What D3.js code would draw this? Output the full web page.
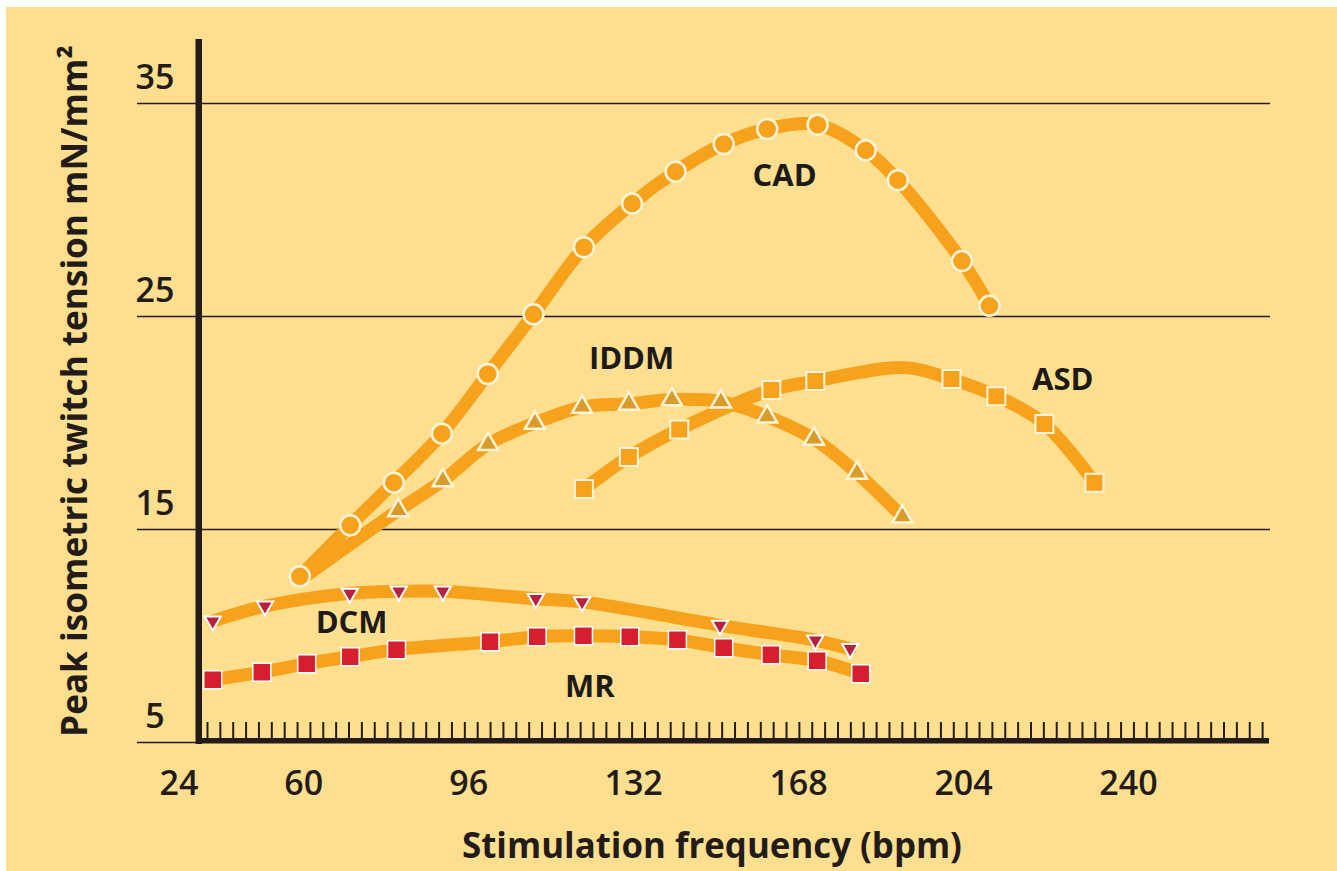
<!DOCTYPE html>
<html><head><meta charset="utf-8">
<script src="https://cdn.jsdelivr.net/npm/d3@7"></script>
<style>html,body{margin:0;padding:0;background:#fff;} svg{display:block;}</style>
</head><body><svg id="chart" width="1337" height="871"></svg>
<script>
// ---------- data ----------
const xTickLabels = [24, 60, 96, 132, 168, 204, 240];
const yTickLabels = [5, 15, 25, 35];
const xTitle = "Stimulation frequency (bpm)";
const yTitle = "Peak isometric twitch tension mN/mm²";
const seriesNames = ["MR", "DCM", "ASD", "IDDM", "CAD"];

const cadX = [58.5, 69.5, 79, 89.5, 99.5, 109.5, 120.5, 131, 140.5, 151, 160.5, 171.5, 182, 189, 203, 209];
const cadY = [12.8, 15.2, 17.2, 19.5, 22.3, 25.1, 28.25, 30.3, 31.8, 33.1, 33.8, 34.0, 32.8, 31.4, 27.6, 25.5];
const cadMarked = cadX.map(() => true);

const iddmX = [59, 80, 89.7, 99.6, 109.8, 120.1, 130.3, 139.7, 150.4, 160.5, 170.7, 180.1, 190];
const iddmY = [12.7, 15.9, 17.3, 19.0, 20.0, 20.75, 20.9, 21.1, 21.0, 20.3, 19.25, 17.65, 15.6];
const iddmMarked = [false, true, true, true, true, true, true, true, true, true, true, true, true];

const asdX = [120.5, 130.3, 141.3, 161.4, 171, 190.5, 200.7, 210.5, 221, 231.9];
const asdY = [16.9, 18.4, 19.7, 21.55, 21.97, 22.6, 22.06, 21.26, 19.95, 17.2];
const asdMarked = [true, true, true, true, true, false, true, true, true, true];

const dcmX = [39.5, 50.9, 69.4, 80.1, 89.7, 110, 120.1, 150.2, 171, 178.6];
const dcmY = [10.7, 11.4, 12.0, 12.1, 12.1, 11.75, 11.6, 10.5, 9.8, 9.4];
const dcmMarked = dcmX.map(() => true);

const mrX = [39.5, 50.2, 60, 69.5, 79.6, 100, 110.3, 120.4, 130.5, 140.9, 151, 161.3, 171.4, 180.9];
const mrY = [7.95, 8.3, 8.7, 9.03, 9.36, 9.73, 9.97, 10.01, 9.97, 9.82, 9.45, 9.12, 8.84, 8.23];
const mrMarked = mrX.map(() => true);

// ---------- layout / style ----------
const W = 1337, H = 871;
const BG = "#FDDF8F", LINE = "#F6A21D", INK = "#231b18";
const FONT = "'Open Sans', 'Noto Sans', sans-serif";

const x = d3.scaleLinear().domain([36.5, 270]).range([199, 1269]);
const y = d3.scaleLinear().domain([5, 35]).range([742.5, 103.5]);

const svg = d3.select("#chart");
svg.append("rect").attr("x", 6).attr("y", 7).attr("width", W - 6).attr("height", H - 7).attr("fill", BG);

// gridlines
const gridLeft = 137, gridRight = 1270;
svg.append("g").selectAll("line").data(yTickLabels).join("line")
  .attr("x1", gridLeft)
  .attr("x2", d => d === y.domain()[0] ? x.range()[0] : gridRight)
  .attr("y1", d => y(d)).attr("y2", d => y(d))
  .attr("stroke", INK).attr("stroke-width", 1.6);

// y tick labels (above gridlines)
svg.append("g").selectAll("text").data(yTickLabels).join("text")
  .attr("x", 155).attr("y", d => y(d) - 15)
  .attr("text-anchor", "middle")
  .attr("font-family", FONT).attr("font-size", 34).attr("font-weight", 600)
  .attr("fill", INK).text(d => d);

// minor ticks on x axis
const minorStart = 38.35, minorStep = 2.808;
const minorTicks = d3.range(0, 83).map(i => minorStart + i * minorStep);
svg.append("g").selectAll("line").data(minorTicks).join("line")
  .attr("x1", d => x(d)).attr("x2", d => x(d))
  .attr("y1", 722).attr("y2", 739)
  .attr("stroke", INK).attr("stroke-width", 2);

// axes lines
svg.append("rect").attr("x", x.range()[0] - 3.5).attr("y", 39).attr("width", 6.5).attr("height", 705).attr("fill", INK);
svg.append("rect").attr("x", x.range()[0] - 3).attr("y", 738).attr("width", x.range()[1] - x.range()[0] + 3).attr("height", 5.5).attr("fill", INK);

// x tick labels
const xPos = v => v < x.domain()[0] ? x(x.domain()[0]) - 20 : x(v) - 3;
svg.append("g").selectAll("text").data(xTickLabels).join("text")
  .attr("x", d => xPos(d)).attr("y", 795)
  .attr("text-anchor", "middle")
  .attr("font-family", FONT).attr("font-size", 34).attr("font-weight", 600)
  .attr("fill", INK).text(d => d);

function fit(sel, target) {
  const n = sel.node();
  const fs = parseFloat(sel.attr("font-size"));
  const w = n.getComputedTextLength();
  sel.attr("font-size", fs * target / w);
}

// axis titles
const xt = svg.append("text").attr("x", 712).attr("y", 858).attr("text-anchor", "middle")
  .attr("font-family", FONT).attr("font-size", 32).attr("font-weight", 700).attr("fill", INK).text(xTitle);
fit(xt, 500);
const yt = svg.append("text").attr("transform", "translate(87,391) rotate(-90)").attr("text-anchor", "middle")
  .attr("font-family", FONT).attr("font-size", 32).attr("font-weight", 700).attr("fill", INK).text(yTitle);
fit(yt, 692);

// series
const series = {
  MR:   {xs: mrX, ys: mrY, m: mrMarked},
  DCM:  {xs: dcmX, ys: dcmY, m: dcmMarked},
  ASD:  {xs: asdX, ys: asdY, m: asdMarked},
  IDDM: {xs: iddmX, ys: iddmY, m: iddmMarked},
  CAD:  {xs: cadX, ys: cadY, m: cadMarked}
};
const line = d3.line().x(d => x(d[0])).y(d => y(d[1])).curve(d3.curveCatmullRom.alpha(0.5));
const lineG = svg.append("g");
seriesNames.forEach(name => {
  const s = series[name];
  const pts = s.xs.map((v, i) => [v, s.ys[i]]);
  lineG.append("path").attr("d", line(pts)).attr("fill", "none")
    .attr("stroke", LINE).attr("stroke-width", 13).attr("stroke-linecap", "round").attr("stroke-linejoin", "round");
});

const markerStyle = {
  CAD:  {type: "circle", size: Math.PI * 10 * 10, fill: LINE, stroke: "#FFF4D8", sw: 2.5, rot: 0},
  IDDM: {type: "triangle", size: 175, fill: "#D89C2C", stroke: "#FFF4D8", sw: 2.5, rot: 0},
  ASD:  {type: "square", size: 18 * 18, fill: LINE, stroke: "#FFF4D8", sw: 2, rot: 0},
  DCM:  {type: "triangle", size: 115, fill: "#B81F40", stroke: "#FFFFFF", sw: 2, rot: 180},
  MR:   {type: "square", size: 18 * 18, fill: "#D61F2E", stroke: "#FFFFFF", sw: 1.5, rot: 0}
};
const symType = {circle: d3.symbolCircle, triangle: d3.symbolTriangle, square: d3.symbolSquare};
const markG = svg.append("g");
seriesNames.forEach(name => {
  const s = series[name], st = markerStyle[name];
  const pts = s.xs.map((v, i) => ({x: v, y: s.ys[i], m: s.m[i]})).filter(d => d.m);
  markG.append("g").selectAll("path").data(pts).join("path")
    .attr("transform", d => `translate(${x(d.x)},${y(d.y)}) rotate(${st.rot})`)
    .attr("d", d3.symbol().type(symType[st.type]).size(st.size))
    .attr("fill", st.fill).attr("stroke", st.stroke).attr("stroke-width", st.sw);
});

// series labels (anchored in data coordinates)
const labelAnchors = {CAD: [164.3, 31.65], IDDM: [130.9, 23.05], ASD: [225, 22.07], DCM: [69.8, 10.66], MR: [121.8, 7.65]};
svg.append("g").selectAll("text").data(seriesNames).join("text")
  .attr("x", d => x(labelAnchors[d][0])).attr("y", d => y(labelAnchors[d][1]))
  .attr("dy", "0.36em").attr("text-anchor", "middle")
  .attr("font-family", FONT).attr("font-size", 31).attr("font-weight", 700)
  .attr("fill", "#1d1a18").text(d => d);
</script>
</body></html>
